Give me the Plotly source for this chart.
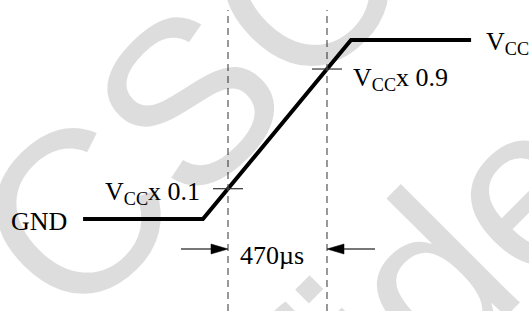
import plotly.graph_objects as go

# ---------------- data ----------------
# rising edge of the supply, time in microseconds, level as a fraction of VCC
edge_time_us = [-688, -119, 584, 1154]      # GND start, ramp start, ramp end, VCC end
edge_level = [0.0, 0.0, 1.0, 1.0]
marker_time_us = [0, 470]                    # 10 % and 90 % crossing markers
rise_label = "470\u00b5s"
level_labels = ["GND", "V<sub>CC</sub>", "V<sub>CC</sub>x 0.1", "V<sub>CC</sub>x 0.9"]
watermark_lines = ["CSC", "Confidential"]

# ---------------- layout geometry (pixel based) ----------------
W, H = 529, 311
X0_PX, PX_PER_US = 228.0, 99.0 / 470.0       # left marker column & scale
Y0_PX, PX_PER_UNIT = 219.0, 179.0            # GND row & VCC height in px

def dx(px):            # pixel distance -> microseconds
    return px / PX_PER_US

def dy(px):            # pixel distance -> level units
    return px / PX_PER_UNIT

x_range = [-X0_PX / PX_PER_US, (W - X0_PX) / PX_PER_US]
y_range = [(Y0_PX - H) / PX_PER_UNIT, Y0_PX / PX_PER_UNIT]

def interp(t):
    xs, ys = edge_time_us, edge_level
    for i in range(len(xs) - 1):
        if xs[i] <= t <= xs[i + 1]:
            return ys[i] + (ys[i + 1] - ys[i]) * (t - xs[i]) / (xs[i + 1] - xs[i])
    return ys[-1]

FONT = "Liberation Serif"
fig = go.Figure()

fig.add_trace(go.Scatter(x=edge_time_us, y=edge_level, mode="lines",
                         line=dict(color="black", width=4), hoverinfo="skip",
                         showlegend=False))

shapes = []
# dashed marker lines
for t in marker_time_us:
    shapes.append(dict(type="line", xref="x", yref="y", x0=t, x1=t,
                       y0=y_range[0], y1=y_range[1] - dy(10),
                       line=dict(color="#555555", width=1.2, dash="7px,5px")))
# crossing ticks
for t in marker_time_us:
    lv = interp(t)
    shapes.append(dict(type="line", xref="x", yref="y", x0=t - dx(15), x1=t + dx(15),
                       y0=lv, y1=lv, line=dict(color="#333333", width=1.2)))

# dimension arrows
ya = -dy(30)
head_len, head_half = dx(17), dy(5)
for t, sgn, tail_px in [(marker_time_us[0], -1, 47), (marker_time_us[1], 1, 48)]:
    shapes.append(dict(type="line", xref="x", yref="y", x0=t + sgn * dx(tail_px),
                       x1=t + sgn * head_len, y0=ya, y1=ya,
                       line=dict(color="#555555", width=1.6)))
    bx = t + sgn * head_len
    shapes.append(dict(type="path", xref="x", yref="y",
                       path=f"M {t} {ya} L {bx} {ya + head_half} L {bx} {ya - head_half} Z",
                       fillcolor="black", line=dict(color="black", width=0.5)))

annotations = []
def label(text, x, y, xanchor):
    annotations.append(dict(text=text, x=x, y=y, xref="x", yref="y", xanchor=xanchor,
                            yanchor="middle", showarrow=False,
                            font=dict(family=FONT, size=26, color="black")))

label(level_labels[0], edge_time_us[0] - dx(14), edge_level[0] - dy(2.5), "right")
label(level_labels[1], edge_time_us[-1] + dx(13), edge_level[-1] - dy(2.5), "left")
label(level_labels[2], marker_time_us[0] - dx(26), interp(marker_time_us[0]) - dy(4.5), "right")
label(level_labels[3], marker_time_us[1] + dx(24), interp(marker_time_us[1]) - dy(9.5), "left")
label(rise_label, marker_time_us[0] + dx(10), ya - dy(6.5), "left")

# watermark (translucent so the drawing stays dark on top of it)
for txt, (px, py) in zip(watermark_lines, [(189, 101), (432, 276)]):
    annotations.append(dict(text=txt, x=px / W, y=1 - py / H, xref="paper", yref="paper",
                            xanchor="center", yanchor="middle", showarrow=False,
                            textangle=-45,
                            font=dict(family="Liberation Sans", size=232,
                                      color="rgba(0,0,0,0.135)")))

fig.update_layout(
    width=W, height=H, autosize=False,
    margin=dict(l=0, r=0, t=0, b=0, pad=0),
    paper_bgcolor="white", plot_bgcolor="white",
    xaxis=dict(range=x_range, visible=False, fixedrange=True),
    yaxis=dict(range=y_range, visible=False, fixedrange=True),
    shapes=shapes, annotations=annotations, hovermode=False, showlegend=False,
)

fig.write_html("out.html", config={"displayModeBar": False, "staticPlot": True},
               post_script="document.body.style.margin='0';document.body.style.overflow='hidden';")
